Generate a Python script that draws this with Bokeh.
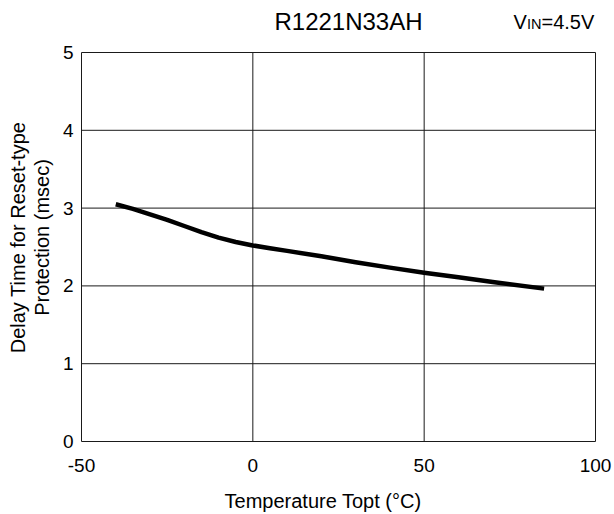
import math
from bokeh.plotting import figure
from bokeh.models import Range1d
from bokeh.core.properties import value
from bokeh.embed import file_html
from bokeh.resources import INLINE

# data
temperature = [-40, -35, -30, -25, -20, -15, -10, -5, 0, 5, 10, 20, 30, 40, 50, 60, 70, 85]
delay_ms = [3.05, 2.99, 2.92, 2.85, 2.77, 2.69, 2.62, 2.565, 2.52, 2.485, 2.45, 2.38, 2.305, 2.235, 2.17, 2.11, 2.05, 1.965]
x_ticks = [-50, 0, 50, 100]
y_ticks = [0, 1, 2, 3, 4, 5]
x_tick_labels = ["-50", "0", "50", "100"]
y_tick_labels = ["0", "1", "2", "3", "4", "5"]
title_text = "R1221N33AH"
x_label = "Temperature Topt (\u00b0C)"
y_label_1 = "Delay Time for Reset-type"
y_label_2 = "Protection (msec)"

FONT = "Liberation Sans"
W, H = 614, 514
# chart box placement on the canvas (pixels)
BOX_L, BOX_R, BOX_T, BOX_B = 81, 595, 52, 441

x0, x1 = x_ticks[0], x_ticks[-1]
y0, y1 = y_ticks[0], y_ticks[-1]
kx = (BOX_R - BOX_L) / (x1 - x0)
ky = (BOX_B - BOX_T) / (y1 - y0)

def X(px):
    return x0 + (px - BOX_L) / kx

def Y(py):
    return y0 + (BOX_B - py) / ky

p = figure(width=W, height=H, output_backend="svg", toolbar_location=None,
           x_axis_location=None, y_axis_location=None,
           x_range=Range1d(X(0), X(W)), y_range=Range1d(Y(H), Y(0)),
           min_border=0, min_border_left=0, min_border_right=0,
           min_border_top=0, min_border_bottom=0)
p.title.visible = False
p.outline_line_color = None
p.background_fill_color = "white"
p.border_fill_color = "white"
p.xgrid.visible = False
p.ygrid.visible = False

# grid + box from the tick arrays
p.segment(x0=x_ticks, y0=[y0] * len(x_ticks), x1=x_ticks, y1=[y1] * len(x_ticks),
          line_color="#1a1a1a", line_width=1)
p.segment(x0=[x0] * len(y_ticks), y0=y_ticks, x1=[x1] * len(y_ticks), y1=y_ticks,
          line_color="#1a1a1a", line_width=1)

# curve
p.line(temperature, delay_ms, line_color="black", line_width=4.5,
       line_join="round", line_cap="butt")

# tick labels
p.text(x=[x0] * len(y_ticks), y=y_ticks, text=y_tick_labels, x_offset=-8,
       text_font=value(FONT), text_font_size="19px", text_color="black",
       text_align="right", text_baseline="middle")
p.text(x=x_ticks, y=[y0] * len(x_ticks), text=x_tick_labels, y_offset=24,
       text_font=value(FONT), text_font_size="19px", text_color="black",
       text_align="center", text_baseline="middle")

def lab(text, px, py, size, align="left", angle=0.0):
    # py is the vertical centre of the capitals
    p.text(x=[X(px)], y=[Y(py)], text=[text], text_font=value(FONT),
           text_font_size=size, text_color="black", text_align=align,
           text_baseline="middle", angle=angle)

lab(title_text, 348, 21, "24px", "center")
lab("V", 513, 21.2, "20px")
lab("IN", 526.5, 23, "14.5px")
lab("=4.5V", 541, 21.2, "20px")
lab(x_label, 322.5, 500.5, "20px", "center")
lab(y_label_1, 17.3, 237, "20px", "center", math.pi / 2)
lab(y_label_2, 41.3, 237, "20px", "center", math.pi / 2)

open("out.html", "w").write(file_html(p, INLINE))
